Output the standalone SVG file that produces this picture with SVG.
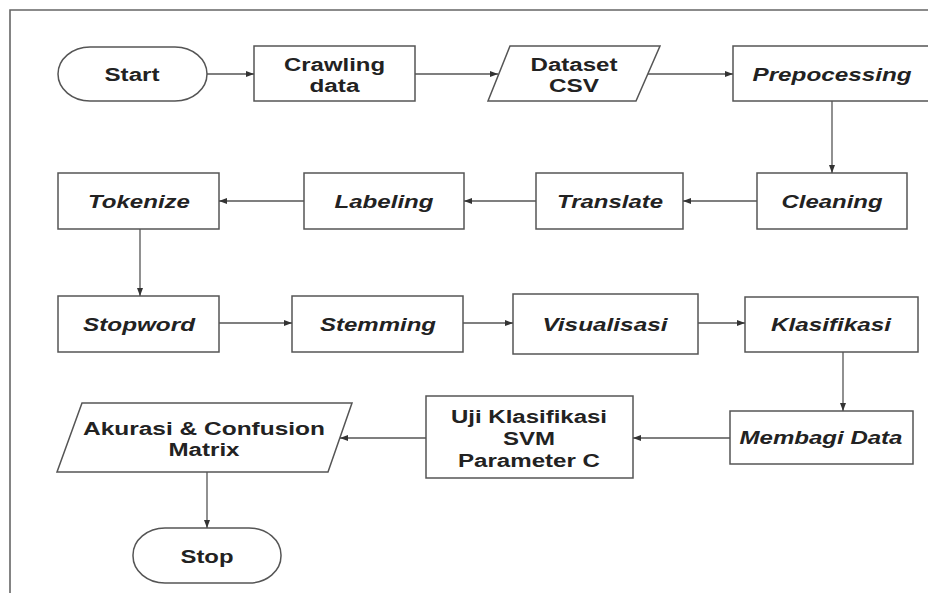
<svg xmlns="http://www.w3.org/2000/svg" width="928" height="593" viewBox="0 0 928 593">
<style>
.bg{fill:#ffffff}
.frame{fill:none;stroke:#666;stroke-width:1.6}
.shape{fill:#ffffff;stroke:#555;stroke-width:1.5}
.t{font-family:"Liberation Sans",Arial,sans-serif;font-weight:bold;font-size:18px;fill:#222;text-anchor:middle}
.i{font-style:italic}
.edge{fill:none;stroke:#555;stroke-width:1.3}
</style>
<defs>
<marker id="ah" viewBox="0 0 8 6" refX="8" refY="3" markerWidth="8" markerHeight="6" markerUnits="userSpaceOnUse" orient="auto">
<path d="M0,0 L8,3 L0,6 z" fill="#333"/>
</marker>
</defs>
<rect class="bg" x="0" y="0" width="928" height="593"/>
<path class="frame" d="M10,593 L10,10 L928,10"/>

<g id="start"><rect class="shape" x="58" y="47" width="149" height="54" rx="32" ry="27"/><text class="t" x="132" y="81" textLength="55" lengthAdjust="spacingAndGlyphs">Start</text></g>
<g id="crawling"><rect class="shape" x="254" y="46" width="161" height="55"/><text class="t" x="334.5" y="71" textLength="101" lengthAdjust="spacingAndGlyphs">Crawling</text><text class="t" x="334.5" y="92" textLength="50" lengthAdjust="spacingAndGlyphs">data</text></g>
<g id="dataset"><polygon class="shape" points="510,46 660,46 636,101 488,101"/><text class="t" x="574" y="71" textLength="87" lengthAdjust="spacingAndGlyphs">Dataset</text><text class="t" x="574" y="92" textLength="50" lengthAdjust="spacingAndGlyphs">CSV</text></g>
<g id="prepocessing"><rect class="shape" x="733" y="46" width="210" height="55"/><text class="t i" x="832" y="81" textLength="159" lengthAdjust="spacingAndGlyphs">Prepocessing</text></g>

<g id="tokenize"><rect class="shape" x="58" y="173" width="161" height="56"/><text class="t i" x="139" y="208" textLength="102" lengthAdjust="spacingAndGlyphs">Tokenize</text></g>
<g id="labeling"><rect class="shape" x="304" y="173" width="160" height="56"/><text class="t i" x="384" y="208" textLength="99" lengthAdjust="spacingAndGlyphs">Labeling</text></g>
<g id="translate"><rect class="shape" x="536" y="173" width="147" height="56"/><text class="t i" x="610" y="208" textLength="106" lengthAdjust="spacingAndGlyphs">Translate</text></g>
<g id="cleaning"><rect class="shape" x="757" y="173" width="150" height="56"/><text class="t i" x="832" y="208" textLength="101" lengthAdjust="spacingAndGlyphs">Cleaning</text></g>

<g id="stopword"><rect class="shape" x="58" y="296" width="161" height="56"/><text class="t i" x="139" y="331" textLength="112" lengthAdjust="spacingAndGlyphs">Stopword</text></g>
<g id="stemming"><rect class="shape" x="292" y="296" width="171" height="56"/><text class="t i" x="378" y="331" textLength="116" lengthAdjust="spacingAndGlyphs">Stemming</text></g>
<g id="visualisasi"><rect class="shape" x="513" y="294" width="185" height="60"/><text class="t i" x="605" y="331" textLength="125" lengthAdjust="spacingAndGlyphs">Visualisasi</text></g>
<g id="klasifikasi"><rect class="shape" x="745" y="297" width="173" height="55"/><text class="t i" x="831" y="331" textLength="120" lengthAdjust="spacingAndGlyphs">Klasifikasi</text></g>

<g id="membagi"><rect class="shape" x="730" y="411" width="183" height="53"/><text class="t i" x="821" y="444" textLength="163" lengthAdjust="spacingAndGlyphs">Membagi Data</text></g>
<g id="uji"><rect class="shape" x="426" y="396" width="207" height="82"/><text class="t" x="529" y="423" textLength="156" lengthAdjust="spacingAndGlyphs">Uji Klasifikasi</text><text class="t" x="529" y="445" textLength="52" lengthAdjust="spacingAndGlyphs">SVM</text><text class="t" x="529" y="467" textLength="142" lengthAdjust="spacingAndGlyphs">Parameter C</text></g>
<g id="akurasi"><polygon class="shape" points="82,403 352,403 328,472 57,472"/><text class="t" x="204" y="435" textLength="242" lengthAdjust="spacingAndGlyphs">Akurasi &amp; Confusion</text><text class="t" x="204" y="456" textLength="71" lengthAdjust="spacingAndGlyphs">Matrix</text></g>
<g id="stop"><rect class="shape" x="133" y="528" width="148" height="55" rx="32" ry="27"/><text class="t" x="207" y="563" textLength="53" lengthAdjust="spacingAndGlyphs">Stop</text></g>

<g id="connectors">
<path class="edge" marker-end="url(#ah)" d="M207,74 L254,74"/>
<path class="edge" marker-end="url(#ah)" d="M415,74 L498,74"/>
<path class="edge" marker-end="url(#ah)" d="M648,74 L733,74"/>
<path class="edge" marker-end="url(#ah)" d="M832,101 L832,173"/>
<path class="edge" marker-end="url(#ah)" d="M757,201 L683,201"/>
<path class="edge" marker-end="url(#ah)" d="M536,201 L464,201"/>
<path class="edge" marker-end="url(#ah)" d="M304,201 L219,201"/>
<path class="edge" marker-end="url(#ah)" d="M140,229 L140,296"/>
<path class="edge" marker-end="url(#ah)" d="M219,323 L292,323"/>
<path class="edge" marker-end="url(#ah)" d="M463,323 L513,323"/>
<path class="edge" marker-end="url(#ah)" d="M698,323 L745,323"/>
<path class="edge" marker-end="url(#ah)" d="M843,352 L843,411"/>
<path class="edge" marker-end="url(#ah)" d="M730,438 L633,438"/>
<path class="edge" marker-end="url(#ah)" d="M426,438 L340,438"/>
<path class="edge" marker-end="url(#ah)" d="M207,472 L207,528"/>
</g>
</svg>
